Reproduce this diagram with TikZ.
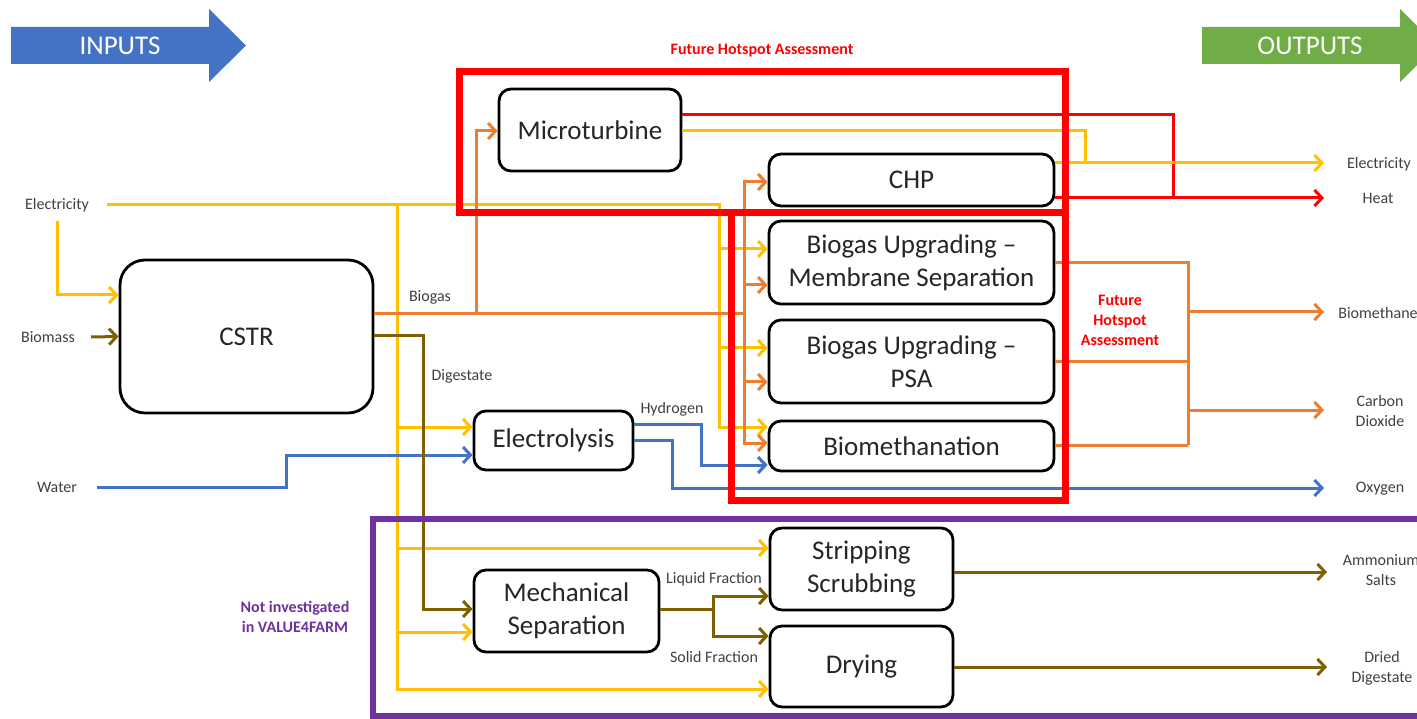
\documentclass[tikz,border=0pt]{standalone}
\usepackage{fontspec}
\setmainfont{Carlito}
\usetikzlibrary{arrows.meta}

\definecolor{cyel}{HTML}{FFC000}
\definecolor{cora}{HTML}{ED7D31}
\definecolor{cblu}{HTML}{4472C4}
\definecolor{cbrn}{HTML}{7F6000}
\definecolor{cred}{HTML}{FF0000}
\definecolor{cpur}{HTML}{7030A0}
\definecolor{cgrn}{HTML}{70AD47}
\definecolor{lbltext}{HTML}{404040}
\definecolor{boxtext}{HTML}{262626}

\newcommand\dgBoxFont{\fontsize{27}{33}\selectfont}
\newcommand\dgLblFont{\fontsize{16}{20}\selectfont}
\newcommand\dgNoteFont{\bfseries\fontsize{16}{20}\selectfont}
\newcommand\dgBannerFont{\fontsize{27}{30}\selectfont}

\tikzset{
  box/.style={draw=black, line width=2.8pt, rounded corners=12pt, fill=white,
    font=\dgBoxFont, text=boxtext, align=center, inner sep=0pt},
  lbl/.style={font=\dgLblFont, text=lbltext, align=center, inner sep=2pt},
  note/.style={font=\dgNoteFont, align=center, inner sep=2pt},
  banner/.style={font=\dgBannerFont, text=white, inner sep=0pt},
  wire/.style={line width=3pt, line join=miter},
  tip/.style={-{Straight Barb[length=7.5pt,width=16pt]}},
  yel/.style={wire, draw=cyel},
  ora/.style={wire, draw=cora},
  blu/.style={wire, draw=cblu},
  brn/.style={wire, draw=cbrn},
  hot/.style={wire, draw=cred},
}

\begin{document}
\begin{tikzpicture}[x=1pt,y=-1pt]
\useasboundingbox (0,0) rectangle (1417,719);
\clip (0,0) rectangle (1417,719);
\fill[white] (0,0) rectangle (1417,719);

% banner arrows
\fill[cblu] (11,27) -- (209,27) -- (209,9) -- (246,45.5) -- (209,82) -- (209,64) -- (11,64) -- cycle;
\node[banner] (inputs) at (120,46) {INPUTS};
\fill[cgrn] (1202,27) -- (1400,27) -- (1400,9) -- (1437,45.5) -- (1400,82) -- (1400,64) -- (1202,64) -- cycle;
\node[banner] (outputs) at (1310,46) {OUTPUTS};

% process units
\node[box, minimum width=253pt, minimum height=153pt, rounded corners=25pt] (cstr) at (246.5,336.5) {CSTR};
\node[box, minimum width=182pt, minimum height=82pt] (micro) at (590,130) {Microturbine};
\node[box, minimum width=285pt, minimum height=52pt] (chp) at (911.5,180) {CHP};
\node[box, minimum width=285pt, minimum height=83pt] (memb) at (911.5,262.5) {Biogas Upgrading –\\Membrane Separation};
\node[box, minimum width=285pt, minimum height=83pt] (psa) at (911.5,361.5) {Biogas Upgrading –\\PSA};
\node[box, minimum width=285pt, minimum height=50pt] (biometh) at (911.5,446) {Biomethanation};
\node[box, minimum width=159pt, minimum height=59pt] (elec) at (553.5,440.5) {Electrolysis};
\node[box, minimum width=185pt, minimum height=82pt] (mech) at (566.5,611) {Mechanical\\Separation};
\node[box, minimum width=183pt, minimum height=82pt] (strip) at (861.5,569) {Stripping\\Scrubbing};
\node[box, minimum width=183pt, minimum height=81pt] (dry) at (861.5,666.5) {Drying};

% input labels
\node[lbl] (elecin) at (57,205) {Electricity};
\node[lbl] (biomass) at (48,337) {Biomass};
\node[lbl] (water) at (57,487) {Water};

% stream labels
\node[lbl] (biogaslbl) at (430,297) {Biogas};
\node[lbl] (digestlbl) at (462,376) {Digestate};
\node[lbl] (h2lbl) at (672,409) {Hydrogen};
\node[lbl] (liqlbl) at (714,579) {Liquid Fraction};
\node[lbl] (sollbl) at (714,657) {Solid Fraction};

% output labels
\node[lbl] (elecout) at (1379,164) {Electricity};
\node[lbl] (heatout) at (1378,198) {Heat};
\node[lbl] (ch4out) at (1378,313) {Biomethane};
\node[lbl] (co2out) at (1380,411) {Carbon\\Dioxide};
\node[lbl] (o2out) at (1380,489) {Oxygen};
\node[lbl] (nh4out) at (1381,570) {Ammonium\\Salts};
\node[lbl] (digout) at (1382,668) {Dried\\Digestate};

% arrow ends in front of the output labels
\coordinate (elecend) at (1324,163);
\coordinate (heatend) at (1324,198);
\coordinate (ch4end) at (1324,312);
\coordinate (co2end) at (1324,410);
\coordinate (o2end) at (1324,488);
\coordinate (nh4end) at (1327,572);
\coordinate (digend) at (1327,667);

% electricity supply
\draw[yel, tip] ([yshift=-7pt]elecin.south) |- (cstr.west |- 0,295);
\draw[yel, tip] ([xshift=16pt]elecin.east) -- (719,205) -- (719,427) -- (biometh.west |- 0,427);
\draw[yel, tip] (719,249) -- (memb.west |- 0,249);
\draw[yel, tip] (719,348) -- (psa.west |- 0,348);
\draw[yel, tip] (397,205) -- (397,689) -- (dry.west |- 0,689);
\draw[yel, tip] (397,427) -- (elec.west |- 0,427);
\draw[yel, tip] (397,548) -- (strip.west |- 0,548);
\draw[yel, tip] (397,632) -- (mech.west |- 0,632);

% biomass and water
\draw[brn, tip] ([xshift=14pt]biomass.east) -- (cstr.west);
\draw[blu, tip] ([xshift=18pt]water.east) -- (286,487) |- (elec.west |- 0,455);

% biogas
\draw[ora] (cstr.east |- 0,314) -- (744,314);
\draw[ora, tip] (476,314) |- (micro.west |- 0,131);
\draw[ora, tip] (744,314) |- (chp.west |- 0,182);
\draw[ora, tip] (744,314) |- (biometh.west |- 0,443);
\draw[ora, tip] (744,285) -- (memb.west |- 0,285);
\draw[ora, tip] (744,382) -- (psa.west |- 0,382);

% digestate
\draw[brn, tip] (cstr.east |- 0,336) -| (423,609) -- (mech.west |- 0,609);

% electrolysis products
\draw[blu, tip] (elec.east |- 0,424) -| (701,465) -- (biometh.west |- 0,465);
\draw[blu, tip] (elec.east |- 0,440) -| (672,488) -- (o2end);

% power and heat
\draw[hot, tip] (micro.east |- 0,115) -| (1173,198) -- (heatend);
\draw[hot] (chp.east |- 0,198) -- (1173,198);
\draw[yel, tip] (micro.east |- 0,131) -| (1085,163) -- (elecend);
\draw[yel] (chp.east |- 0,163) -- (1085,163);

% upgraded gas
\draw[ora] (memb.east |- 0,263) -| (1188,445);
\draw[ora] (psa.east |- 0,362) -- (1188,362);
\draw[ora] (biometh.east |- 0,445) -- (1188,445);
\draw[ora, tip] (1188,312) -- (ch4end);
\draw[ora, tip] (1188,410) -- (co2end);

% digestate treatment
\draw[brn] (mech.east |- 0,609) -- (713,609);
\draw[brn, tip] (713,609) |- (strip.west |- 0,596);
\draw[brn, tip] (713,609) |- (dry.west |- 0,636);
\draw[brn, tip] (strip.east |- 0,572) -- (nh4end);
\draw[brn, tip] (dry.east |- 0,667) -- (digend);

% assessment frames
\draw[cred, line width=7pt] (459,72) rectangle (1065,213);
\draw[cred, line width=7pt] (731,213) rectangle (1065,500);
\draw[cpur, line width=6pt] (373,519) rectangle (1430,716);

% frame notes
\node[note, text=cred] (fhatop) at (762,51) {Future Hotspot Assessment};
\node[note, text=cred] (fharight) at (1120,320) {Future\\Hotspot\\Assessment};
\node[note, text=cpur] (notinv) at (295,617) {Not investigated\\in VALUE4FARM};
\end{tikzpicture}
\end{document}
